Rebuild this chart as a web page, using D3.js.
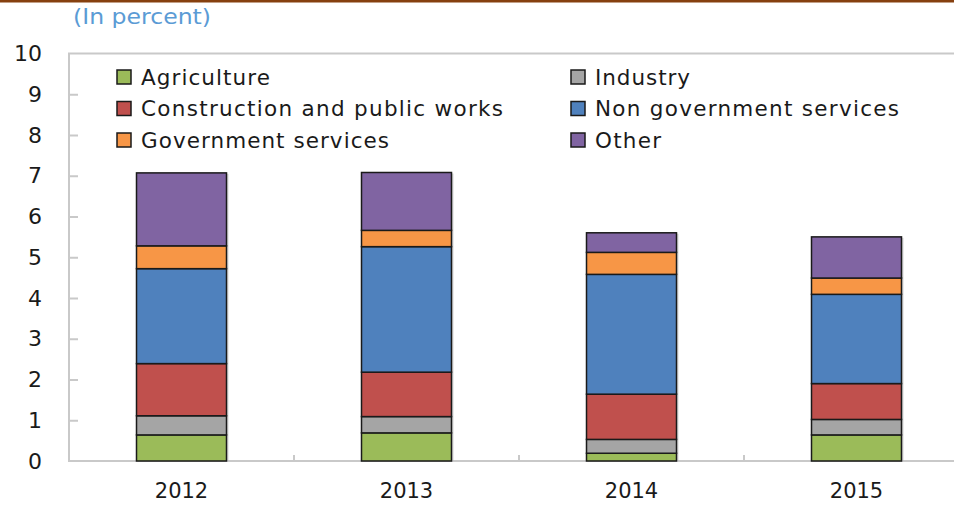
<!DOCTYPE html>
<html>
<head>
<meta charset="utf-8">
<script src="https://cdn.jsdelivr.net/npm/d3@7"></script>
<style>
  html, body { margin: 0; padding: 0; background: #fff; }
  svg { display: block; }
</style>
</head>
<body>
<svg id="chart" width="954" height="505"></svg>
<script>
// Contribution to growth by sector, in percent
const years = ["2012", "2013", "2014", "2015"];
const sectors = ["Agriculture", "Industry", "Construction and public works",
                 "Non government services", "Government services", "Other"];
const agriculture  = [0.64, 0.69, 0.19, 0.64];
const industry     = [0.47, 0.40, 0.34, 0.38];
const construction = [1.28, 1.09, 1.11, 0.88];
const nonGovServ   = [2.33, 3.08, 2.94, 2.19];
const govServ      = [0.56, 0.40, 0.54, 0.40];
const other        = [1.79, 1.42, 0.48, 1.01];
const yTicks = [0, 1, 2, 3, 4, 5, 6, 7, 8, 9, 10];

const seriesValues = [agriculture, industry, construction, nonGovServ, govServ, other];
const colors = ["#9bbb59", "#a5a5a5", "#c0504d", "#4f81bd", "#f79646", "#8064a2"];

const rows = years.map((yr, i) => {
  const r = { year: yr };
  sectors.forEach((s, k) => { r[s] = seriesValues[k][i]; });
  return r;
});

const svg = d3.select("#chart");
const plotLeft = 69, plotTop = 53.5, plotBottom = 461, plotRight = 969;
const font = "DejaVu Sans, Verdana, sans-serif";

const x = d3.scaleBand().domain(years).range([plotLeft, plotRight]).paddingInner(0.6).paddingOuter(0.3);
const y = d3.scaleLinear().domain([0, 10]).range([plotBottom, plotTop]);
const color = d3.scaleOrdinal().domain(sectors).range(colors);

// banner rule across the top
svg.append("rect").attr("x", 0).attr("y", 0).attr("width", 954).attr("height", 2.5)
  .attr("fill", "#86400f");

svg.append("text").attr("x", 73).attr("y", 24)
  .attr("font-family", font).attr("font-size", 21)
  .attr("fill", "#5b9bd5")
  .attr("textLength", 138).attr("lengthAdjust", "spacingAndGlyphs")
  .text("(In percent)");

// plot frame
svg.append("rect").attr("x", plotLeft).attr("y", plotTop)
  .attr("width", plotRight - plotLeft).attr("height", plotBottom - plotTop)
  .attr("fill", "none").attr("stroke", "#c9c9c9").attr("stroke-width", 2);

// y axis: ticks point inward, labels on the left
const yAxis = d3.axisLeft(y).tickValues(yTicks).tickSize(-9).tickPadding(27);
const gy = svg.append("g").attr("transform", `translate(${plotLeft},0)`).call(yAxis);
gy.select(".domain").remove();
gy.selectAll(".tick line").attr("stroke", "#c9c9c9").attr("stroke-width", 2)
  .filter(d => d === 0 || d === 10).remove();
gy.selectAll(".tick text").attr("font-family", font)
  .attr("font-size", 22).attr("fill", "#1a1a1a");

// x axis: year labels, separators between categories
const gx = svg.append("g").attr("transform", `translate(0,${plotBottom})`)
  .call(d3.axisBottom(x).tickSize(0).tickPadding(22));
gx.select(".domain").remove();
gx.selectAll(".tick text").attr("font-family", font)
  .attr("font-size", 21).attr("fill", "#1a1a1a");

const step = x.step();
svg.append("g").selectAll("line").data(years.slice(1)).join("line")
  .attr("x1", d => x(d) - x.paddingInner() * step / 2)
  .attr("x2", d => x(d) - x.paddingInner() * step / 2)
  .attr("y1", plotBottom).attr("y2", plotBottom - 6)
  .attr("stroke", "#c9c9c9").attr("stroke-width", 2);

// stacked bars
const stacked = d3.stack().keys(sectors)(rows);

// soft shadow on the right of each bar
svg.append("g").selectAll("rect").data(rows).join("rect")
  .attr("x", d => x(d.year) + 2).attr("width", x.bandwidth())
  .attr("y", d => y(d3.sum(sectors, s => d[s])) + 1)
  .attr("height", d => plotBottom - y(d3.sum(sectors, s => d[s])) - 1)
  .attr("fill", "#bdbdbd").attr("opacity", 0.6);

svg.append("g").selectAll("g").data(stacked).join("g")
  .attr("fill", d => color(d.key))
  .selectAll("rect").data(d => d).join("rect")
  .attr("x", d => x(d.data.year))
  .attr("width", x.bandwidth())
  .attr("y", d => y(d[1]))
  .attr("height", d => y(d[0]) - y(d[1]))
  .attr("stroke", "#1a1a1a").attr("stroke-width", 1.5);

// legend in two columns
const legendCols = [117, 571];
const legendRows = [77, 108.5, 140];
const legendWidths = {
  "Agriculture": 129, "Industry": 95, "Construction and public works": 362,
  "Non government services": 304, "Government services": 248, "Other": 66
};
const order = ["Agriculture", "Industry", "Construction and public works",
               "Non government services", "Government services", "Other"];
const lg = svg.append("g").selectAll("g").data(order).join("g")
  .attr("transform", (d, i) => `translate(${legendCols[i % 2]},${legendRows[Math.floor(i / 2)]})`);
lg.append("rect").attr("x", 0).attr("y", -7).attr("width", 14).attr("height", 14)
  .attr("fill", d => color(d)).attr("stroke", "#1a1a1a").attr("stroke-width", 1.5);
lg.append("text").attr("x", 24).attr("y", 7.5)
  .attr("font-family", font).attr("font-size", 21.5)
  .attr("fill", "#1a1a1a")
  .attr("textLength", d => legendWidths[d]).attr("lengthAdjust", "spacing")
  .text(d => d);
</script>
</body>
</html>
